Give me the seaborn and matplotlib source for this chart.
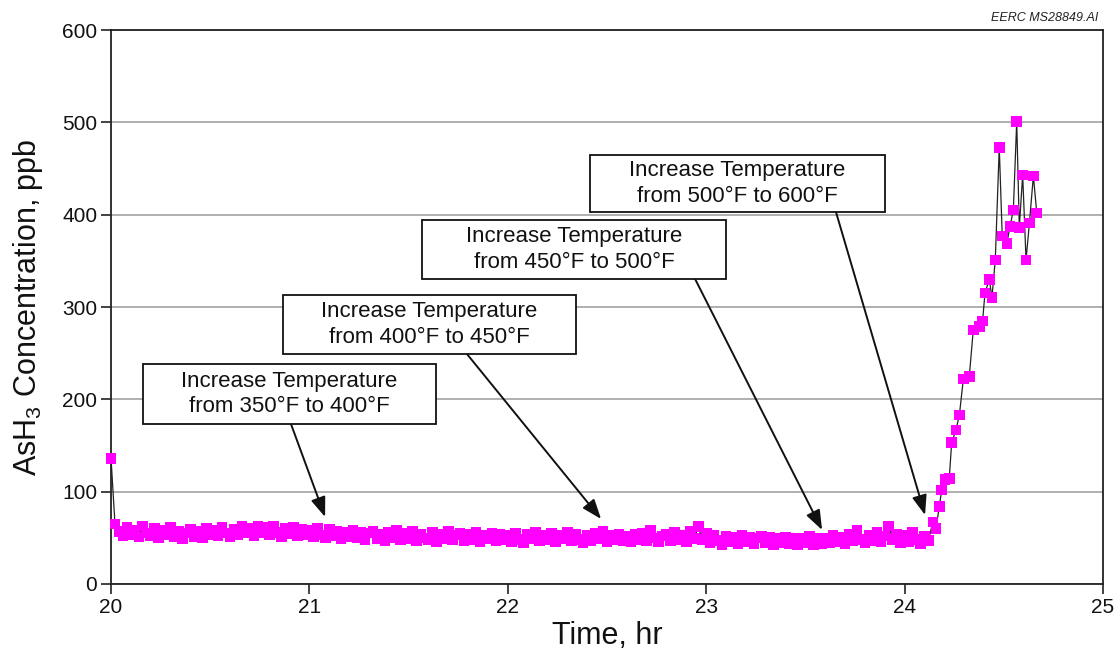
import matplotlib
matplotlib.use("Agg")
import matplotlib.pyplot as plt
from matplotlib.patches import Rectangle
import seaborn as sns
import pandas as pd

# ---------------- data ----------------
time_hr = [
    20.00, 20.02, 20.04, 20.06, 20.08, 20.10, 20.12, 20.14, 20.16, 20.18,
    20.20, 20.22, 20.24, 20.26, 20.28, 20.30, 20.32, 20.34, 20.36, 20.38,
    20.40, 20.42, 20.44, 20.46, 20.48, 20.50, 20.52, 20.54, 20.56, 20.58,
    20.60, 20.62, 20.64, 20.66, 20.68, 20.70, 20.72, 20.74, 20.76, 20.78,
    20.80, 20.82, 20.84, 20.86, 20.88, 20.90, 20.92, 20.94, 20.96, 20.98,
    21.00, 21.02, 21.04, 21.06, 21.08, 21.10, 21.12, 21.14, 21.16, 21.18,
    21.20, 21.22, 21.24, 21.26, 21.28, 21.30, 21.32, 21.34, 21.36, 21.38,
    21.40, 21.42, 21.44, 21.46, 21.48, 21.50, 21.52, 21.54, 21.56, 21.58,
    21.60, 21.62, 21.64, 21.66, 21.68, 21.70, 21.72, 21.74, 21.76, 21.78,
    21.80, 21.82, 21.84, 21.86, 21.88, 21.90, 21.92, 21.94, 21.96, 21.98,
    22.00, 22.02, 22.04, 22.06, 22.08, 22.10, 22.12, 22.14, 22.16, 22.18,
    22.20, 22.22, 22.24, 22.26, 22.28, 22.30, 22.32, 22.34, 22.36, 22.38,
    22.40, 22.42, 22.44, 22.46, 22.48, 22.50, 22.52, 22.54, 22.56, 22.58,
    22.60, 22.62, 22.64, 22.66, 22.68, 22.70, 22.72, 22.74, 22.76, 22.78,
    22.80, 22.82, 22.84, 22.86, 22.88, 22.90, 22.92, 22.94, 22.96, 22.98,
    23.00, 23.02, 23.04, 23.06, 23.08, 23.10, 23.12, 23.14, 23.16, 23.18,
    23.20, 23.22, 23.24, 23.26, 23.28, 23.30, 23.32, 23.34, 23.36, 23.38,
    23.40, 23.42, 23.44, 23.46, 23.48, 23.50, 23.52, 23.54, 23.56, 23.58,
    23.60, 23.62, 23.64, 23.66, 23.68, 23.70, 23.72, 23.74, 23.76, 23.78,
    23.80, 23.82, 23.84, 23.86, 23.88, 23.90, 23.92, 23.94, 23.96, 23.98,
    24.00, 24.02, 24.04, 24.06, 24.08, 24.10, 24.12,
    24.142, 24.158, 24.175, 24.187, 24.204, 24.225, 24.237, 24.259, 24.276, 24.296,
    24.326, 24.346, 24.376, 24.393, 24.405, 24.427, 24.440, 24.457, 24.477, 24.492,
    24.515, 24.531, 24.548, 24.565, 24.578, 24.595, 24.612, 24.629, 24.649, 24.666,
]

ash3_ppb = [
    136, 65, 57, 52, 61, 53, 58, 51, 63, 55,
    52, 60, 50, 58, 53, 61, 51, 57, 49, 55,
    59, 51, 57, 50, 60, 53, 58, 52, 61, 55,
    51, 59, 53, 62, 55, 60, 52, 63, 56, 61,
    53, 62, 56, 51, 60, 54, 61, 52, 59, 53,
    58, 51, 60, 53, 50, 59, 52, 57, 49, 56,
    51, 58, 50, 56, 48, 55, 57, 49, 54, 47,
    56, 50, 58, 48, 55, 49, 57, 47, 54, 50,
    48, 56, 46, 54, 49, 57, 48, 53, 55, 47,
    54, 48, 56, 46, 53, 49, 55, 47, 54, 48,
    53, 46, 55, 48, 45, 54, 49, 56, 47, 53,
    48, 55, 46, 53, 49, 56, 47, 54, 48, 45,
    53, 47, 55, 49, 57, 46, 53, 48, 54, 47,
    52, 46, 54, 48, 55, 47, 58, 50, 46, 52,
    54, 47, 56, 48, 53, 46, 57, 49, 62, 48,
    55, 45, 53, 47, 43, 52, 46, 51, 44, 53,
    46, 51, 44, 50, 52, 45, 51, 43, 50, 45,
    51, 44, 49, 42, 50, 45, 52, 43, 49, 44,
    50, 45, 53, 46, 51, 44, 54, 47, 58, 48,
    45, 53, 47, 56, 46, 52, 63, 48, 54, 45,
    53, 46, 56, 48, 44, 52, 47,
    67, 60, 84, 102, 113, 114, 153, 167, 183, 222,
    225, 275, 279, 285, 315, 330, 310, 351, 473, 377,
    369, 387, 405, 501, 386, 443, 351, 391, 442, 402,
]

x_ticks = [20, 21, 22, 23, 24, 25]
y_ticks = [0, 100, 200, 300, 400, 500, 600]

annotation_texts = [
    "Increase Temperature\nfrom 350°F to 400°F",
    "Increase Temperature\nfrom 400°F to 450°F",
    "Increase Temperature\nfrom 450°F to 500°F",
    "Increase Temperature\nfrom 500°F to 600°F",
]

# ---------------- style ----------------
sns.set_style("ticks")
plt.rcParams["font.family"] = ["Liberation Sans", "DejaVu Sans"]
plt.rcParams["mathtext.default"] = "regular"

df = pd.DataFrame({"time": time_hr, "ppb": ash3_ppb})

fig = plt.figure(figsize=(11.18, 6.53), dpi=100)
ax = fig.add_axes([0.0993, 0.1057, 0.8873, 0.8483])

sns.lineplot(data=df, x="time", y="ppb", color="#222222", linewidth=0.9,
             ax=ax, zorder=3, estimator=None, sort=False)
sns.scatterplot(data=df, x="time", y="ppb", marker="s", s=58,
                color="#FF00FF", edgecolor="none", linewidth=0, ax=ax,
                zorder=4, clip_on=False)

ax.set_xlim(20, 25)
ax.set_ylim(0, 600)
ax.set_xticks(x_ticks)
ax.set_yticks(y_ticks)
ax.tick_params(axis="both", labelsize=15, length=7, width=1.2, direction="out",
               color="#222222", labelcolor="#111111", pad=3)
ax.yaxis.grid(True, color="#9a9a9a", linewidth=1.1)
ax.set_axisbelow(True)
for sp in ax.spines.values():
    sp.set_color("#222222")
    sp.set_linewidth(1.3)

ax.set_xlabel("Time, hr", fontsize=22, labelpad=3, color="#111111")
ax.set_ylabel("AsH$_3$ Concentration, ppb", fontsize=22, labelpad=12,
              color="#111111")

# ---------------- annotations ----------------
# (box left, box right, box bottom, box top, arrow start x, arrow start y, tip x, tip y)
layout = [
    (20.161, 21.638, 173.3, 238.3, 20.907, 173.3, 21.079, 72.6),
    (20.867, 22.344, 249.1, 313.0, 21.794, 249.1, 22.470, 70.4),
    (21.568, 23.100, 330.3, 394.2, 22.944, 330.3, 23.584, 58.5),
    (22.414, 23.901, 402.9, 464.6, 23.654, 402.9, 24.103, 74.7),
]
for txt, (x0, x1, y0, y1, ax0, ay0, tx, ty) in zip(annotation_texts, layout):
    ax.add_patch(Rectangle((x0, y0), x1 - x0, y1 - y0, facecolor="white",
                           edgecolor="#111111", linewidth=1.3, zorder=6))
    ax.text((x0 + x1) / 2, (y0 + y1) / 2, txt, ha="center", va="center",
            fontsize=16, linespacing=1.3, zorder=7, color="#111111")
    ax.annotate("", xy=(tx, ty), xytext=(ax0, ay0),
                arrowprops=dict(arrowstyle="-|>,head_length=1.2,head_width=0.45",
                                mutation_scale=10, color="#111111", lw=1.4,
                                shrinkA=0, shrinkB=0), zorder=5)

fig.text(0.982, 0.973, "EERC MS28849.AI", ha="right", va="center",
         fontsize=9, style="italic", color="#222222")

fig.savefig("out.png", dpi=100)
